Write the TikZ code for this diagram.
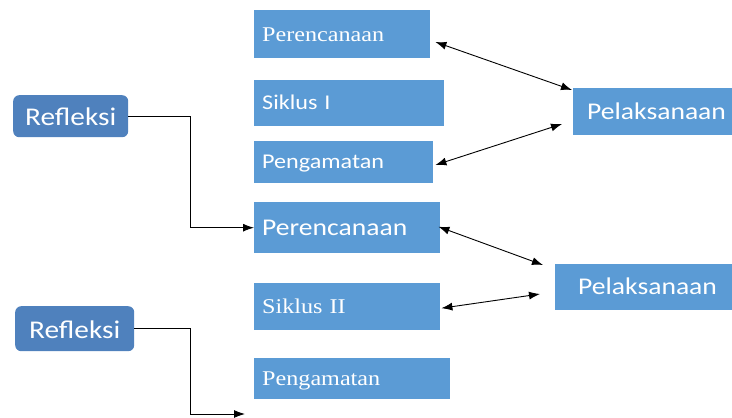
\documentclass[tikz,border=0pt]{standalone}
\usepackage{fontspec}
\usetikzlibrary{arrows.meta}
\newfontfamily\sansf[FakeStretch=1.15]{Carlito}
\newfontfamily\seriff[FakeStretch=1.15]{Liberation Serif}
\definecolor{boxblue}{HTML}{5B9BD5}
\definecolor{refblue}{HTML}{4F81BD}
\tikzset{
  box/.style={fill=boxblue, text=white, anchor=north west, inner xsep=8pt, inner ysep=0pt,
    align=left, text depth=0pt},
  sersmall/.style={font=\seriff\fontsize{21}{23}\selectfont, text height=13.9pt},
  sanssmall/.style={font=\sansf\fontsize{21}{23}\selectfont, text height=13.5pt},
  sansbig/.style={font=\sansf\fontsize{24}{26}\selectfont, text height=15.5pt},
  refl/.style={fill=refblue, text=white, anchor=north west, rounded corners=6pt, inner sep=0pt,
    text height=19pt, text depth=0pt, font=\sansf\fontsize{25.5}{27}\selectfont},
  conn/.style={line width=0.9pt, -{Latex[length=11pt,width=8pt]}},
  dconn/.style={line width=0.9pt, {Latex[length=11pt,width=8pt]}-{Latex[length=11pt,width=8pt]}},
}
\begin{document}
\begin{tikzpicture}[x=1pt,y=-1pt]
\useasboundingbox (0,0) rectangle (732,418);
% Siklus I
\node[box, sersmall, minimum height=48pt, text width=160pt] (pr1) at (254,10) {\mbox{Perencanaan}};
\node[box, sanssmall, minimum height=46pt, text width=174pt] (s1) at (254,80) {\mbox{Siklus I}};
\node[box, sanssmall, minimum height=42pt, text width=163pt] (pg1) at (254,141) {\mbox{Pengamatan}};
\node[box, sansbig, minimum height=47pt, inner xsep=14pt, text width=131pt] (pl1) at (573,88) {\mbox{Pelaksanaan}};
% Siklus II
\node[box, sansbig, minimum height=51pt, text width=170pt] (pr2) at (254,202) {\mbox{Perencanaan}};
\node[box, sersmall, minimum height=47pt, text width=170pt] (s2) at (254,283) {\mbox{Siklus II}};
\node[box, sersmall, minimum height=41pt, text width=180pt] (pg2) at (254,358) {\mbox{Pengamatan}};
\node[box, sansbig, minimum height=46pt, inner xsep=23pt, text width=131pt] (pl2) at (555,264) {\mbox{Pelaksanaan}};
% Refleksi
\node[refl, minimum width=115pt, minimum height=42pt] (r1) at (13,95) {Refleksi};
\node[refl, minimum width=119pt, minimum height=45pt] (r2) at (15,306) {Refleksi};
\coordinate (e2) at (245,414);
% connectors
\draw[conn] (r1.east) -- ++(62,0) |- (pr2.west);
\draw[conn] (r2.east) -- ++(56,0) |- (e2);
\draw[dconn] ([xshift=5pt,yshift=-32pt]pr1.north east) -- ([xshift=-1pt,yshift=-2pt]pl1.north west);
\draw[dconn] ([xshift=2pt,yshift=-24pt]pg1.north east) -- ([xshift=-11pt,yshift=-36pt]pl1.north west);
\draw[dconn] ([xshift=-2pt,yshift=1pt]pr2.east) -- ([xshift=-12pt,yshift=-1pt]pl2.north west);
\draw[dconn] ([xshift=1pt,yshift=-1.5pt]s2.east) -- ([xshift=-15pt,yshift=-30pt]pl2.north west);
\end{tikzpicture}
\end{document}
